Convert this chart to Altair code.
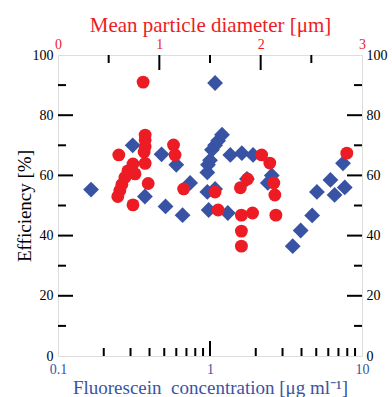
import altair as alt
import pandas as pd

BLUE = "#3953a4"
RED = "#ed1c24"
FONT = "Liberation Serif"

# Fluorescein concentration [ug/ml] (bottom log axis) vs efficiency
conc = [0.165, 0.31, 0.373, 0.48, 0.51, 0.6, 0.66, 0.74, 0.96, 0.97, 0.96, 0.98,
        1.0, 1.03, 1.08, 1.13, 1.2, 1.08, 1.08, 1.31, 1.36, 1.62, 1.92, 1.75,
        2.55, 2.4, 3.5, 3.95, 4.7, 5.05, 6.2, 6.6, 7.7, 7.5]
conc_eff = [55.3, 70.0, 53.0, 67.0, 49.7, 63.5, 46.8, 57.5, 61.0, 63.5, 54.5, 48.5,
            65.0, 68.5, 70.0, 71.5, 73.5, 90.7, 55.5, 47.5, 66.8, 67.4, 66.8, 58.8,
            60.0, 57.5, 36.5, 41.7, 46.7, 54.5, 58.5, 53.5, 56.0, 64.0]

# Mean particle diameter [um] (top linear axis) vs efficiency
diam = [0.84, 0.86, 0.86, 0.86, 0.85, 0.60, 1.14, 1.155, 0.86, 0.74, 0.69, 0.76,
        0.66, 0.63, 0.61, 0.59, 0.89, 0.74, 1.24, 1.55, 1.58, 1.81, 1.92, 1.87,
        1.80, 1.81, 1.81, 2.01, 2.09, 2.13, 2.14, 2.15, 2.85]
diam_eff = [91.0, 73.4, 71.8, 69.6, 67.8, 66.8, 70.1, 66.8, 64.0, 63.8, 61.5, 60.5,
            59.3, 57.0, 55.0, 53.0, 57.3, 50.2, 55.5, 54.5, 48.5, 46.8, 47.5, 58.8,
            55.9, 41.5, 36.5, 66.8, 64.1, 57.5, 53.5, 46.8, 67.4]

y_labels = [0, 20, 40, 60, 80, 100]
y_major = [20, 40, 60, 80]
y_minor = [10, 30, 50, 70, 90]
logx_labels = [0.1, 1, 10]
logx_major = [1]
logx_minor = [0.2, 0.3, 0.4, 0.5, 0.6, 0.7, 0.8, 0.9, 2, 3, 4, 5, 6, 7, 8, 9]
top_labels = [0, 1, 2, 3]
top_major = [1, 2]
top_minor = [0.5, 1.5, 2.5]

W, H = 304, 301
MAJ, MIN = 15, 8

ydom = alt.Scale(domain=[0, 100])
logdom = alt.Scale(type="log", domain=[0.1, 10])
lindom = alt.Scale(domain=[0, 3])


def hticks(vals, x0, x1):
    return alt.Chart(pd.DataFrame({"v": vals})).mark_rule(color="black", strokeWidth=2).encode(
        y=alt.Y("v:Q", scale=ydom, axis=None), x=alt.value(x0), x2=alt.value(x1))


def vticks(vals, scale, y0, y1):
    return alt.Chart(pd.DataFrame({"v": vals})).mark_rule(color="black", strokeWidth=2).encode(
        x=alt.X("v:Q", scale=scale, axis=None), y=alt.value(y0), y2=alt.value(y1))


common = dict(grid=False, domain=False, ticks=False, tickSize=0, labelFlush=False,
              labelFont=FONT, titleFont=FONT, titleFontWeight="normal")

blue = alt.Chart(pd.DataFrame({"c": conc, "e": conc_eff})).mark_point(
    shape="diamond", filled=True, size=250, color=BLUE, opacity=1, strokeWidth=0
).encode(
    x=alt.X("c:Q", scale=logdom, axis=alt.Axis(
        orient="bottom", values=logx_labels, format="~g", labelColor=BLUE, labelFontSize=14,
        labelPadding=6, title="Fluorescein\u00a0 concentration [\u03bcg ml\u207b\u00b9]",
        titleColor=BLUE, titleFontSize=19, titlePadding=2, **common)),
    y=alt.Y("e:Q", scale=ydom, axis=alt.Axis(
        orient="left", values=y_labels, labelColor="black", labelFontSize=14,
        labelPadding=5, title="Efficiency [%]", titleColor="black", titleFontSize=19,
        titlePadding=-2, **common)),
)

red = alt.Chart(pd.DataFrame({"d": diam, "e": diam_eff})).mark_circle(
    size=165, color=RED, opacity=1
).encode(
    x=alt.X("d:Q", scale=lindom, axis=alt.Axis(
        orient="top", values=top_labels, format="d", labelColor=RED, labelFontSize=14,
        labelPadding=4, title="Mean particle diameter [\u03bcm]", titleColor=RED,
        titleFontSize=21, titlePadding=2, **common)),
    y=alt.Y("e:Q", scale=ydom, axis=alt.Axis(
        orient="right", values=y_labels, labelColor="black", labelFontSize=14,
        labelPadding=4, title=None, **common)),
)

layers = [
    hticks(y_major, 0, MAJ), hticks(y_minor, 0, MIN),
    hticks(y_major, W - MAJ, W), hticks(y_minor, W - MIN, W),
    vticks(logx_major, logdom, H, H - MAJ), vticks(logx_minor, logdom, H, H - MIN),
    vticks(top_major, lindom, 0, MAJ), vticks(top_minor, lindom, 0, MIN),
    blue, red,
]

chart = alt.layer(*layers).resolve_scale(x="independent", y="independent").properties(
    width=W, height=H, autosize="none",
    padding={"left": 58, "top": 55, "right": 30, "bottom": 41},
).configure_view(stroke="black", strokeWidth=2.5).configure(background="white")

chart.save("out.html", embed_options={"renderer": "svg", "actions": False})
